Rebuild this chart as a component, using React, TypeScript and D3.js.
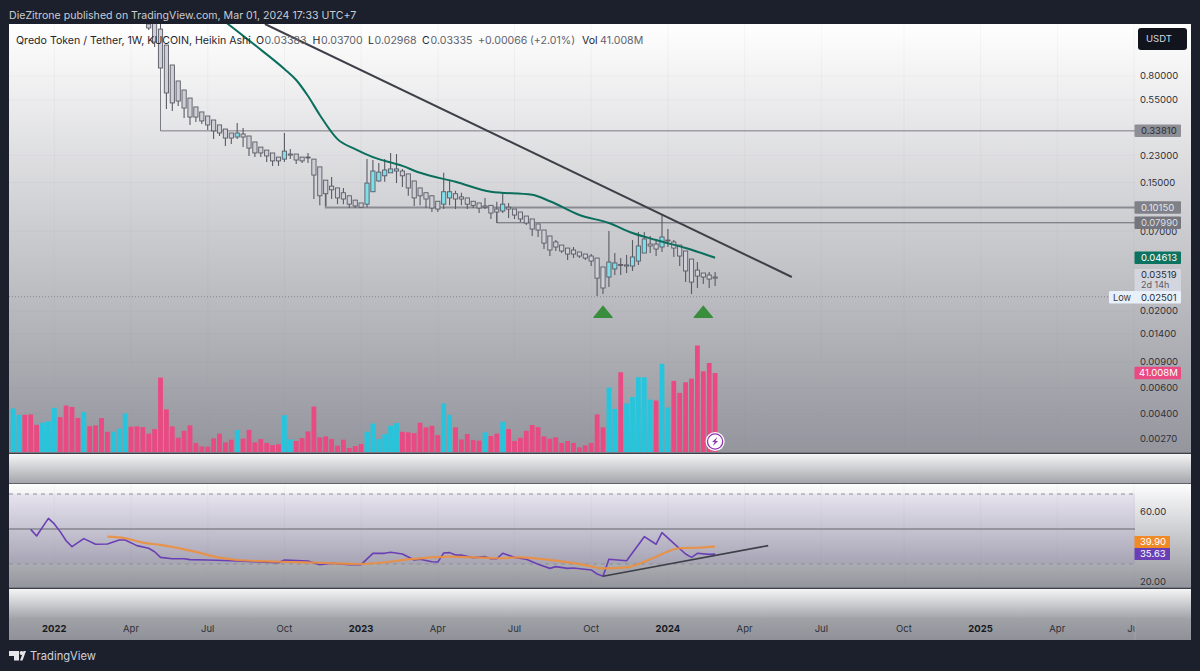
import { useEffect, useRef } from "react";
import * as d3 from "d3";

// weekly candles, first one is bar 24
const firstCandle = 24;
const opens = [
  1.81, 1.9, 1.67, 1.3, 0.951, 0.74, 0.642, 0.566, 0.492, 0.455,
  0.427, 0.401, 0.371, 0.348, 0.327, 0.307, 0.322, 0.312, 0.284, 0.262,
  0.25, 0.239, 0.224, 0.217, 0.235, 0.235, 0.224, 0.224, 0.217, 0.192,
  0.156, 0.142, 0.138, 0.128, 0.122, 0.114, 0.109, 0.107, 0.13, 0.154,
  0.167, 0.175, 0.18, 0.18, 0.172, 0.154, 0.138, 0.128, 0.122, 0.112,
  0.107, 0.118, 0.126, 0.12, 0.118, 0.112, 0.109, 0.104, 0.105, 0.0991,
  0.0961, 0.102, 0.0991, 0.0946, 0.0888, 0.0848, 0.0784, 0.0713, 0.0649, 0.0591,
  0.0563, 0.0537, 0.0521, 0.0505, 0.0489, 0.0474, 0.0459, 0.0399, 0.0341, 0.0387,
  0.0415, 0.0412, 0.0405, 0.0438, 0.0497, 0.0572, 0.0572, 0.0546, 0.0609, 0.0591,
  0.0563, 0.0513, 0.0452, 0.038, 0.0363, 0.0352, 0.0341,
];
const closes = [
  1.7, 1.364, 0.907, 0.613, 0.524, 0.54, 0.484, 0.42, 0.42, 0.395,
  0.371, 0.338, 0.327, 0.302, 0.302, 0.327, 0.307, 0.258, 0.239, 0.239,
  0.228, 0.211, 0.211, 0.246, 0.231, 0.214, 0.211, 0.221, 0.169, 0.122,
  0.126, 0.134, 0.118, 0.116, 0.107, 0.104, 0.102, 0.149, 0.18, 0.177,
  0.183, 0.186, 0.186, 0.167, 0.138, 0.118, 0.122, 0.116, 0.1007, 0.0991,
  0.13, 0.13, 0.116, 0.116, 0.107, 0.105, 0.1007, 0.102, 0.0931, 0.0946,
  0.107, 0.0991, 0.0902, 0.0848, 0.0796, 0.0724, 0.0713, 0.0581, 0.0521, 0.0546,
  0.0513, 0.0489, 0.0489, 0.0474, 0.0459, 0.0438, 0.0335, 0.0287, 0.0431, 0.0425,
  0.0409, 0.0405, 0.0467, 0.0555, 0.0619, 0.0555, 0.0529, 0.0639, 0.06, 0.0537,
  0.0474, 0.0375, 0.0315, 0.0346, 0.0341, 0.033, 0.0335,
];
const highs = [
  1.9, 1.9, 1.81, 1.3, 0.951, 0.74, 0.642, 0.566, 0.492, 0.455,
  0.427, 0.401, 0.371, 0.348, 0.327, 0.383, 0.354, 0.312, 0.284, 0.262,
  0.25, 0.239, 0.224, 0.327, 0.254, 0.235, 0.224, 0.239, 0.217, 0.192,
  0.156, 0.164, 0.138, 0.138, 0.122, 0.114, 0.109, 0.217, 0.214, 0.204,
  0.217, 0.239, 0.235, 0.186, 0.172, 0.154, 0.138, 0.128, 0.122, 0.112,
  0.175, 0.154, 0.132, 0.128, 0.118, 0.112, 0.109, 0.118, 0.105, 0.111,
  0.128, 0.109, 0.0991, 0.0946, 0.0888, 0.0848, 0.0784, 0.0713, 0.0649, 0.0609,
  0.0563, 0.0537, 0.0546, 0.0505, 0.0489, 0.0489, 0.0459, 0.0399, 0.0702, 0.0497,
  0.0459, 0.0481, 0.0609, 0.0691, 0.0691, 0.0649, 0.0609, 0.0902, 0.0724, 0.0609,
  0.0563, 0.0513, 0.0452, 0.0431, 0.0363, 0.0369, 0.0369,
];
const lows = [
  1.647, 1.26, 0.907, 0.477, 0.462, 0.5, 0.414, 0.371, 0.389, 0.377,
  0.343, 0.297, 0.312, 0.267, 0.275, 0.297, 0.262, 0.228, 0.224, 0.224,
  0.207, 0.195, 0.195, 0.207, 0.217, 0.201, 0.204, 0.204, 0.116, 0.105,
  0.104, 0.116, 0.107, 0.107, 0.1007, 0.1007, 0.1007, 0.102, 0.13, 0.152,
  0.152, 0.175, 0.149, 0.14, 0.122, 0.104, 0.105, 0.1007, 0.0946, 0.0946,
  0.0991, 0.105, 0.0991, 0.105, 0.0991, 0.1007, 0.0931, 0.0991, 0.0848, 0.0796,
  0.0931, 0.0861, 0.0848, 0.0808, 0.0771, 0.0649, 0.0639, 0.0529, 0.0474, 0.0513,
  0.0497, 0.0445, 0.0459, 0.0459, 0.0445, 0.0405, 0.0253, 0.0261, 0.0291, 0.0352,
  0.0352, 0.0363, 0.0375, 0.0412, 0.0497, 0.0497, 0.0474, 0.0505, 0.0546, 0.0467,
  0.0405, 0.0315, 0.0261, 0.0287, 0.0305, 0.0287, 0.0296,
];

// volume in millions, from bar 0
const volumes = [
  25.5, 22.6, 19.3, 19.3, 19.5, 14.1, 15.2, 16.0, 22.9, 18.1, 24.1, 23.4, 17.7, 20.8, 13.4, 13.8,
  17.6, 10.5, 10.5, 12.1, 20.0, 13.1, 13.3, 12.9, 9.5, 11.9, 38.6, 22.1, 13.3, 7.4, 11.0, 13.8,
  4.7, 2.9, 2.8, 7.1, 9.5, 5.0, 6.4, 11.4, 6.9, 11.5, 5.0, 6.7, 4.7, 3.6, 4.0, 19.1,
  6.5, 5.7, 7.2, 10.7, 23.6, 7.6, 8.1, 6.7, 3.3, 6.4, 2.1, 3.1, 4.1, 10.5, 14.8, 6.7,
  9.3, 13.6, 15.0, 10.5, 10.2, 9.8, 15.2, 12.8, 13.6, 8.8, 25.2, 19.3, 12.8, 6.5, 9.3, 6.2,
  5.9, 10.2, 8.3, 9.5, 15.7, 11.9, 5.7, 7.4, 11.0, 14.0, 12.9, 8.1, 6.9, 7.6, 4.7, 5.7,
  4.7, 2.4, 3.4, 4.7, 19.5, 12.8, 33.4, 22.4, 41.4, 25.2, 28.6, 38.8, 38.8, 27.2, 26.7, 45.8,
  23.1, 36.9, 30.7, 36.2, 38.1, 55.3, 41.9, 46.2, 41.0,
];
const volumeUpBars = [
  0, 1, 2, 6, 7, 8, 13, 18, 19, 20, 39, 47, 48, 61, 62, 63, 64, 65, 66, 74, 75, 81, 84, 102, 103,
  105, 106, 107, 108, 109, 111, 112,
];

// green moving average on price
const maBars = [37, 42, 47, 49, 51, 53, 56, 59, 62, 67, 70, 76, 82, 89, 92, 97, 102, 106, 110, 115, 120];
const maValues = [
  1.868, 1.3, 0.893, 0.751, 0.584, 0.434, 0.297, 0.254, 0.224, 0.195, 0.175, 0.152, 0.13, 0.124,
  0.112, 0.0902, 0.0796, 0.068, 0.0609, 0.0537, 0.04613,
];

const rsiBars = [
  4, 5, 7, 8, 9, 10, 11, 13, 15, 17, 19, 20, 22, 24, 25, 26, 28, 30, 31, 34, 38, 42, 46, 47, 51, 53,
  55, 58, 60, 62, 64, 65, 67, 69, 70, 72, 73, 74, 75, 76, 77, 79, 81, 82, 83, 84, 86, 88, 90, 92, 93,
  95, 96, 99, 100, 101, 102, 105, 108, 110, 111, 113, 115, 116, 117, 119, 120,
];
const rsiValues = [
  49.8, 46.0, 56.1, 52.9, 48.5, 43.3, 39.9, 44.5, 41.3, 41.4, 43.7, 43.7, 40.5, 39.0, 37.0, 33.8, 33.0,
  33.0, 32.5, 32.3, 31.9, 31.3, 30.7, 32.3, 31.7, 29.6, 30.4, 29.6, 29.6, 36.1, 36.1, 36.7, 35.7, 32.3,
  32.7, 31.3, 31.1, 36.3, 36.5, 35.1, 35.1, 33.6, 34.2, 33.0, 33.0, 36.1, 33.8, 32.7, 29.8, 27.5, 28.5,
  27.5, 27.7, 26.6, 24.3, 23.0, 32.7, 31.9, 45.6, 41.3, 47.9, 41.8, 35.7, 33.8, 36.1, 35.5, 35.63,
];
const rsiMaBars = [17, 20, 23, 26, 32, 36, 39, 46, 53, 60, 69, 75, 83, 87, 93, 98, 101, 105, 109, 114, 117, 120];
const rsiMaValues = [
  45.6, 44.7, 42.2, 40.9, 36.9, 33.6, 32.3, 31.3, 30.7, 30.0, 32.9, 34.2, 33.3, 33.8, 31.9, 29.4, 27.5,
  28.1, 32.7, 39.0, 39.3, 39.9,
];

const priceTicks = [0.8, 0.55, 0.23, 0.15, 0.07, 0.02, 0.014, 0.009, 0.006, 0.004, 0.0027];
const rsiTicks = [60, 20];
const rsiLevels = [70, 30];
const timeTickBars = [8, 21, 34, 47, 60, 73, 86, 99, 112, 125, 138, 152, 165, 178, 191];
const timeTickLabels = ["2022", "Apr", "Jul", "Oct", "2023", "Apr", "Jul", "Oct", "2024", "Apr", "Jul", "Oct", "2025", "Apr", "Jul"];
const markerBars = [101, 118];

const FONT = "Inter, 'Noto Sans', sans-serif";
const AXIS_SIZE = 9.5;
const LEGEND_SIZE = 10.6;

export default function App() {
  const svgRef = useRef<SVGSVGElement | null>(null);

  useEffect(() => {
    if (!svgRef.current) return;
    const svg = d3.select(svgRef.current);
    svg.selectAll("*").remove();

    const axisX = 1135;
    const right = 1191;
    const left = 9;

    const x = d3.scaleLinear().domain([0, 120]).range([7.1, 715.1]);
    const y = d3.scaleLog().domain([0.8, 0.02]).range([76, 311]);
    const vol = d3.scaleLinear().domain([0, 41.008]).range([452, 373]);
    const rsi = d3.scaleLinear().domain([60, 20]).range([511.5, 581.5]);

    const defs = svg.append("defs");
    const grad = (id: string, stops: [number, string][]) => {
      const g = defs.append("linearGradient").attr("id", id).attr("x1", 0).attr("y1", 0).attr("x2", 0).attr("y2", 1);
      stops.forEach(([o, c]) => g.append("stop").attr("offset", o).attr("stop-color", c));
    };
    grad("mainBg", [[0, "#ffffff"], [1, "#94959d"]]);
    grad("bandBg", [[0, "#f5f5f6"], [1, "#a4a6ac"]]);
    grad("rsiBg", [[0, "#fdfdfe"], [1, "#93959c"]]);
    grad("timeBg", [[0, "#a0a2a8"], [1, "#8f9198"]]);
    defs.append("clipPath").attr("id", "mainClip").append("rect").attr("x", left).attr("y", 24).attr("width", axisX - left).attr("height", 428);
    defs.append("clipPath").attr("id", "timeClip").append("rect").attr("x", left).attr("y", 617).attr("width", axisX - left).attr("height", 23);

    svg.append("rect").attr("width", 1200).attr("height", 671).attr("fill", "#1c202c");

    const pane = (py: number, ph: number, fill: string) =>
      svg.append("rect").attr("x", left).attr("y", py).attr("width", right - left).attr("height", ph).attr("fill", fill);
    pane(24, 429, "url(#mainBg)");
    pane(454, 29, "url(#bandBg)");
    pane(484, 104, "url(#rsiBg)");
    pane(589, 29, "url(#bandBg)");
    pane(618, 22, "url(#timeBg)");

    // pane separators
    [453, 483.5, 588].forEach((sy) => {
      svg.append("line").attr("x1", left).attr("x2", right).attr("y1", sy).attr("y2", sy).attr("stroke", "#5f6068").attr("stroke-width", 1.2);
    });

    // faint grid
    timeTickBars.forEach((b) => {
      [[24, 452], [484, 587]].forEach(([a, c]) => {
        svg.append("line").attr("x1", x(b)).attr("x2", x(b)).attr("y1", a).attr("y2", c).attr("stroke", "#8a8c94").attr("stroke-opacity", 0.07);
      });
    });
    priceTicks.forEach((t) => {
      svg.append("line").attr("x1", left).attr("x2", axisX).attr("y1", y(t)).attr("y2", y(t)).attr("stroke", "#8a8c94").attr("stroke-opacity", 0.06);
    });

    // rsi band and levels
    svg.append("rect").attr("x", left).attr("width", axisX - left).attr("y", rsi(rsiLevels[0])).attr("height", rsi(rsiLevels[1]) - rsi(rsiLevels[0])).attr("fill", "#7e57c2").attr("fill-opacity", 0.1);
    rsiLevels.forEach((l) => {
      svg.append("line").attr("x1", left).attr("x2", axisX).attr("y1", rsi(l)).attr("y2", rsi(l)).attr("stroke", "#8f9098").attr("stroke-width", 1).attr("stroke-dasharray", "4 4");
    });
    svg.append("line").attr("x1", left).attr("x2", axisX).attr("y1", rsi(50)).attr("y2", rsi(50)).attr("stroke", "#85868f").attr("stroke-width", 1.4);

    const main = svg.append("g").attr("clip-path", "url(#mainClip)");

    // low dotted line
    main.append("line").attr("x1", left).attr("x2", 1109).attr("y1", y(0.02501)).attr("y2", y(0.02501)).attr("stroke", "#85868e").attr("stroke-dasharray", "1 2");

    // horizontal rays with their drop from the candle
    const rays: [number, number, number, string, number][] = [
      [26, 0.907, 0.3381, "#7a7b83", 1],
      [54, 0.126, 0.1015, "#8a8b93", 1.8],
      [83, 0.0946, 0.0799, "#666770", 1],
    ];
    rays.forEach(([bar, from, level, color, width]) => {
      main.append("path")
        .attr("d", `M${x(bar)},${y(from)}V${y(level)}H${axisX}`)
        .attr("fill", "none")
        .attr("stroke", color)
        .attr("stroke-width", width);
    });

    // volume
    main.selectAll("rect.vol")
      .data(volumes)
      .join("rect")
      .attr("class", "vol")
      .attr("x", (_, i) => x(i) - 2.4)
      .attr("width", 4.8)
      .attr("y", (d) => vol(d))
      .attr("height", (d) => 452 - vol(d))
      .attr("fill", (_, i) => (volumeUpBars.includes(i) ? "#27c5dd" : "#e94a82"));

    // candles
    const candles = main.selectAll("g.candle").data(opens).join("g").attr("class", "candle");
    candles.append("line")
      .attr("x1", (_, i) => x(i + firstCandle))
      .attr("x2", (_, i) => x(i + firstCandle))
      .attr("y1", (_, i) => y(highs[i]))
      .attr("y2", (_, i) => y(lows[i]))
      .attr("stroke", "#5a5a64")
      .attr("stroke-width", 1.1);
    candles.append("rect")
      .attr("x", (_, i) => x(i + firstCandle) - 2.1)
      .attr("width", 4.2)
      .attr("y", (d, i) => y(Math.max(d, closes[i])))
      .attr("height", (d, i) => Math.max(0.8, Math.abs(y(closes[i]) - y(d))))
      .attr("fill", (d, i) => (closes[i] > d ? "#7edfe9" : "#cfd0d7"))
      .attr("stroke", "#5a5a64")
      .attr("stroke-width", 0.9);

    // moving average and trend line
    const priceLine = d3.line<number>().x((_, i) => x(maBars[i])).y((d) => y(d)).curve(d3.curveMonotoneX);
    main.append("path").attr("d", priceLine(maValues)).attr("fill", "none").attr("stroke", "#0b6e5d").attr("stroke-width", 2);

    main.append("line")
      .attr("x1", x(43.7)).attr("y1", y(1.81))
      .attr("x2", x(133)).attr("y2", y(0.0341))
      .attr("stroke", "#3e3f48").attr("stroke-width", 2);

    // entry markers
    markerBars.forEach((b) => {
      main.append("path")
        .attr("d", `M${x(b)},${y(0.0215)}L${x(b) + 9},${y(0.0181)}H${x(b) - 9}Z`)
        .attr("fill", "#388e3c")
        .attr("stroke", "#388e3c")
        .attr("stroke-width", 1.5)
        .attr("stroke-linejoin", "round");
    });

    // rsi lines
    const rsiLine = d3.line<number>().x((_, i) => x(rsiBars[i])).y((d) => rsi(d));
    svg.append("path").attr("d", rsiLine(rsiValues)).attr("fill", "none").attr("stroke", "#6a3fb5").attr("stroke-width", 1.6).attr("stroke-linejoin", "round");
    const rsiMaLine = d3.line<number>().x((_, i) => x(rsiMaBars[i])).y((d) => rsi(d)).curve(d3.curveMonotoneX);
    svg.append("path").attr("d", rsiMaLine(rsiMaValues)).attr("fill", "none").attr("stroke", "#ec8f3e").attr("stroke-width", 2.2).attr("stroke-opacity", 0.9);
    svg.append("line")
      .attr("x1", x(101)).attr("y1", rsi(23))
      .attr("x2", x(129)).attr("y2", rsi(40.5))
      .attr("stroke", "#3e3f48").attr("stroke-width", 1.6);

    const text = (
      tx: number,
      ty: number,
      s: string,
      size: number,
      fill: string,
      opts: { anchor?: string; weight?: number; parent?: any } = {}
    ) =>
      (opts.parent || svg)
        .append("text")
        .attr("x", tx)
        .attr("y", ty)
        .attr("dy", "0.35em")
        .attr("font-family", FONT)
        .attr("font-size", size)
        .attr("font-weight", opts.weight || 400)
        .attr("text-anchor", opts.anchor || "start")
        .attr("fill", fill)
        .text(s);

    // header and legend
    text(9, 15.5, "DieZitrone published on TradingView.com, Mar 01, 2024 17:33 UTC+7", LEGEND_SIZE, "#c9ccd3");
    text(16, 40, "Qredo Token / Tether, 1W, KUCOIN, Heikin Ashi", LEGEND_SIZE, "#26272e");
    const legend: [number, string, string][] = [
      [256, "O", "0.03383"],
      [312.5, "H", "0.03700"],
      [368, "L", "0.02968"],
      [422, "C", "0.03335"],
    ];
    legend.forEach(([lx, k, v]) => {
      text(lx, 40, k, LEGEND_SIZE, "#26272e");
      text(lx + (k === "L" ? 6.5 : 8.5), 40, v, LEGEND_SIZE, "#62636b");
    });
    text(478, 40, "+0.00066", LEGEND_SIZE, "#62636b");
    text(530, 40, "(+2.01%)", LEGEND_SIZE, "#62636b");
    text(582, 40, "Vol", LEGEND_SIZE, "#26272e");
    text(600, 40, "41.008M", LEGEND_SIZE, "#62636b");

    // price axis
    priceTicks.forEach((t) => {
      text(1140, y(t), t.toFixed(5), AXIS_SIZE, "#303138");
    });

    const tag = (ty: number, h: number, fill: string) =>
      svg.append("rect").attr("x", 1134.5).attr("y", ty - h / 2).attr("width", 46.5).attr("height", h).attr("fill", fill).attr("rx", 1);

    tag(y(0.3381), 12.5, "#8d8e96");
    text(1141, y(0.3381), "0.33810", AXIS_SIZE, "#2c2d33");
    tag(y(0.1015), 12.5, "#7f8088");
    text(1141, y(0.1015), "0.10150", AXIS_SIZE, "#e6e7ea");
    tag(y(0.0799), 12.5, "#74757d");
    text(1141, y(0.0799), "0.07990", AXIS_SIZE, "#dcdde0");
    tag(y(0.04613), 12.5, "#0c7361");
    text(1141, y(0.04613), "0.04613", AXIS_SIZE, "#ffffff");
    svg.append("rect").attr("x", 1134.5).attr("y", 269).attr("width", 46.5).attr("height", 22).attr("fill", "#d3d5df");
    text(1141, 274.8, "0.03519", AXIS_SIZE, "#2c2d33");
    text(1141, 285.2, "2d 14h", 9, "#5a5b63");
    svg.append("rect").attr("x", 1109).attr("y", 291).attr("width", 72).attr("height", 12.5).attr("fill", "#e8f0fa").attr("rx", 1);
    text(1113, 297.3, "Low", 9.2, "#3a3b42");
    text(1141, 297.3, "0.02501", AXIS_SIZE, "#2c2d33");
    tag(vol(41.008), 12.5, "#e94a82");
    text(1139, vol(41.008), "41.008M", AXIS_SIZE, "#ffffff");

    // rsi axis
    rsiTicks.forEach((t) => {
      text(1140, rsi(t), t.toFixed(2), AXIS_SIZE, "#303138");
    });
    svg.append("rect").attr("x", 1134.5).attr("y", 536).attr("width", 35.5).attr("height", 12).attr("fill", "#f08a26");
    text(1140, 542, "39.90", AXIS_SIZE, "#ffffff");
    svg.append("rect").attr("x", 1134.5).attr("y", 548).attr("width", 35.5).attr("height", 12).attr("fill", "#6a3fb5");
    text(1140, 554, "35.63", AXIS_SIZE, "#ffffff");

    // time axis
    const timeAxis = svg.append("g").attr("clip-path", "url(#timeClip)");
    timeTickLabels.forEach((s, i) => {
      const isYear = s.length === 4;
      text(x(timeTickBars[i]), 629, s, AXIS_SIZE, isYear ? "#17181d" : "#2e2f36", { anchor: "middle", weight: isYear ? 700 : 400, parent: timeAxis });
    });
    svg.append("line").attr("x1", axisX).attr("x2", axisX).attr("y1", 617).attr("y2", 640).attr("stroke", "#a4a6ac").attr("stroke-width", 0.8);

    // USDT button
    svg.append("rect").attr("x", 1138).attr("y", 28).attr("width", 49).attr("height", 22).attr("rx", 3).attr("fill", "#11141c");
    text(1146, 39, "USDT", 9.5, "#d8dae0");

    // lightning badge on the last bar
    const bx = x(120);
    const by = 441.5;
    svg.append("circle").attr("cx", bx).attr("cy", by).attr("r", 9.5).attr("fill", "#ffffff");
    svg.append("circle").attr("cx", bx).attr("cy", by).attr("r", 7.6).attr("fill", "#ffffff").attr("stroke", "#8e35b0").attr("stroke-width", 1.3);
    svg.append("path")
      .attr("d", `M${bx + 2.2},${by - 4.5}L${bx - 3},${by + 0.6}H${bx - 0.4}L${bx - 2.2},${by + 4.5}L${bx + 3},${by - 0.6}H${bx + 0.4}Z`)
      .attr("fill", "#8e35b0");

    // TradingView logo
    svg.append("path").attr("d", "M9 651H19V660.5H14V656H9Z").attr("fill", "#e4e6ea");
    svg.append("circle").attr("cx", 21.5).attr("cy", 653).attr("r", 1.9).attr("fill", "#e4e6ea");
    svg.append("path").attr("d", "M20 660.5L23.5 651H26L22.5 660.5Z").attr("fill", "#e4e6ea");
    text(30, 656, "TradingView", 11.2, "#cfd2d9");
  }, []);

  return (
    <svg
      ref={svgRef}
      width={1200}
      height={671}
      viewBox="0 0 1200 671"
      style={{ position: "fixed", left: 0, top: 0, display: "block" }}
    />
  );
}
